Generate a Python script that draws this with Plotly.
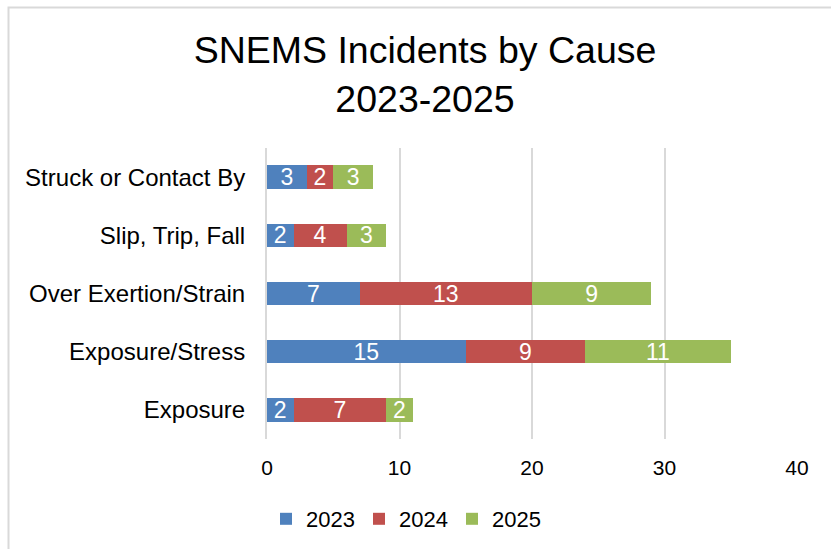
import plotly.graph_objects as go

W, H = 831, 549
L, R, T, B = 267, 34, 148, 110

categories = ['Exposure', 'Exposure/Stress', 'Over Exertion/Strain',
              'Slip, Trip, Fall', 'Struck or Contact By']
y2023 = [2, 15, 7, 2, 3]
y2024 = [7, 9, 13, 4, 2]
y2025 = [2, 11, 9, 3, 3]
years = ['2023', '2024', '2025']
colors = ['#4F81BD', '#C0504D', '#9BBB59']

FONT = 'Liberation Sans, Arial, sans-serif'

fig = go.Figure()
for name, vals, col in zip(years, [y2023, y2024, y2025], colors):
    fig.add_trace(go.Bar(
        y=categories, x=vals, name=name, orientation='h',
        marker=dict(color=col, line=dict(width=0)),
        text=vals, textposition='inside', insidetextanchor='middle',
        constraintext='none', cliponaxis=False,
        textfont=dict(color='white', size=23, family=FONT),
        textangle=0, hoverinfo='x+y',
    ))


def px_x(p):
    return (p - L) / (W - L - R)


def px_y(p):
    return 1 - (p - T) / (H - T - B)


# chart border (only top and left edges visible in the original)
fig.add_shape(type='rect', xref='paper', yref='paper',
              x0=px_x(8.5), x1=px_x(840), y0=px_y(7.5), y1=px_y(560),
              line=dict(color='#D9D9D9', width=2), layer='below')

fig.update_layout(
    width=W, height=H,
    margin=dict(l=L, r=R, t=T, b=B, autoexpand=False),
    barmode='stack', bargap=0.6,
    paper_bgcolor='white', plot_bgcolor='white',
    font=dict(family=FONT, color='black', size=22),
    title=dict(text='SNEMS Incidents by Cause<br>2023-2025',
               x=px_x(425), xref='paper', xanchor='center',
               y=1 - 63 / H, yref='container', yanchor='top',
               font=dict(size=37.5, family=FONT, color='black')),
    legend=dict(orientation='h', x=px_x(266), xref='paper', xanchor='left',
                y=1 - 519 / H, yref='container', yanchor='middle',
                font=dict(size=22, family=FONT), traceorder='normal',
                itemwidth=30, entrywidth=48),
    uniformtext=dict(minsize=8, mode='show'),
)
fig.update_xaxes(range=[0, 40], dtick=10, showgrid=True, gridcolor='#D9D9D9',
                 gridwidth=2, zeroline=False, ticks='', ticklabelstandoff=14,
                 tickfont=dict(size=21), fixedrange=True, automargin=False)
fig.update_yaxes(showline=True, linecolor='#D9D9D9', linewidth=2,
                 ticks='', ticklabelstandoff=15, tickfont=dict(size=24),
                 fixedrange=True, automargin=False)

fig.write_html('out.html', config={'displayModeBar': False},
               post_script="document.body.style.margin='0';")
